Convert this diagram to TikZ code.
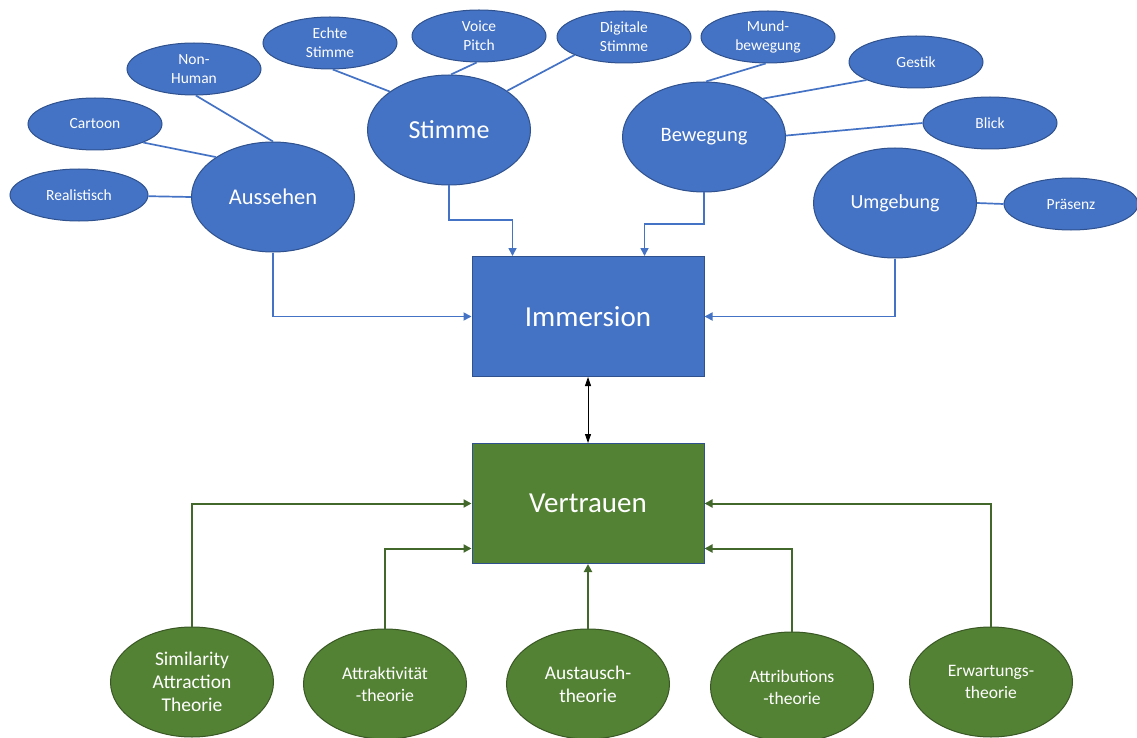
\documentclass[tikz,border=0pt]{standalone}
\usepackage{fontspec}
\setmainfont{Carlito}
\usetikzlibrary{shapes.geometric,arrows.meta}
\definecolor{bf}{HTML}{4472C4}
\definecolor{bd}{HTML}{2F528F}
\definecolor{gf}{HTML}{548235}
\definecolor{gd}{HTML}{385723}
\definecolor{gl}{HTML}{43682B}
\tikzset{
  sm/.style={ellipse, draw=bd, fill=bf, line width=1pt, minimum width=134pt, minimum height=52pt, inner sep=0pt, text=white, align=center, font=\fontsize{15.5}{19}\selectfont},
  big/.style={ellipse, draw=bd, fill=bf, line width=1pt, minimum width=163pt, minimum height=110pt, inner sep=0pt, text=white, align=center},
  gr/.style={ellipse, draw=gd, fill=gf, line width=1pt, minimum width=163pt, minimum height=110pt, inner sep=0pt, text=white, align=center},
  box/.style={rectangle, draw=bd, line width=1pt, minimum width=232pt, minimum height=120pt, inner sep=0pt, text=white, font=\fontsize{29}{34}\selectfont},
  bline/.style={draw=bf, line width=1.7pt},
  barr/.style={draw=bf, line width=1.7pt, -{Triangle[width=8pt,length=8pt]}},
  garr/.style={draw=gl, line width=2pt, -{Triangle[width=8pt,length=8pt]}},
  karr/.style={draw=black, line width=0.8pt, {Triangle[width=6pt,length=9pt]}-{Triangle[width=6pt,length=9pt]}},
}
\begin{document}
\begin{tikzpicture}[x=1pt,y=-1pt]
\useasboundingbox (0,0) rectangle (1137,738);
% top small ellipses
\node[sm, minimum width=138pt] (real) at (79,195) {Realistisch};
\node[sm] (cart) at (95,124) {Cartoon};
\node[sm] (nonh) at (194,69) {Non-\\Human};
\node[sm] (echt) at (330,43) {Echte\\Stimme};
\node[sm] (voic) at (479,36) {Voice\\Pitch};
\node[sm] (digi) at (624,37) {Digitale\\Stimme};
\node[sm] (mund) at (768,37) {Mund-\\bewegung};
\node[sm] (gest) at (916,62) {Gestik};
\node[sm] (blic) at (990,123) {Blick};
\node[sm] (prae) at (1071,204) {Präsenz};
% big ellipses
\node[big, font=\fontsize{22.5}{26}\selectfont] (auss) at (273,197) {Aussehen};
\node[big, font=\fontsize{26}{30}\selectfont] (stim) at (449,130) {Stimme};
\node[big, font=\fontsize{20.5}{24}\selectfont] (bew) at (704,137) {Bewegung};
\node[big, font=\fontsize{20}{24}\selectfont] (umg) at (895,203) {Umgebung};
% boxes
\node[box, fill=bf] (imm) at (588,316.5) {Immersion};
\node[box, fill=gf] (ver) at (588,503.5) {Vertrauen};
% green ellipses
\node[gr, font=\fontsize{19.5}{23}\selectfont] (sim) at (192,682) {Similarity\\Attraction\\Theorie};
\node[gr, font=\fontsize{17.8}{22}\selectfont] (attr) at (385,684) {Attraktivität\\-theorie};
\node[gr, font=\fontsize{19.4}{23}\selectfont] (aust) at (588,684) {Austausch-\\theorie};
\node[gr, font=\fontsize{17.6}{22}\selectfont] (atbu) at (792,687) {Attributions\\-theorie};
\node[gr, font=\fontsize{17.5}{22}\selectfont] (erw) at (991,682) {Erwartungs-\\theorie};
% spokes
\draw[bline] (real.-1) -- (auss.180);
\draw[bline] (cart.-21) -- (auss.145);
\draw[bline] (nonh.-86) -- (auss.90);
\draw[bline] (echt.-84) -- (stim.147);
\draw[bline] (voic.-95) -- (stim.88);
\draw[bline] (digi.-160) -- (stim.34);
\draw[bline] (mund.-95) -- (bew.88);
\draw[bline] (gest.-160) -- (bew.33);
\draw[bline] (blic.180) -- (bew.1);
\draw[bline] (prae.180) -- (umg.0);
% arrows into Immersion
\draw[barr] (auss.south) |- (imm.west);
\draw[barr] (umg.south) |- (imm.east);
\draw[barr] (stim.south) -- (449,220) -| ([xshift=41pt]imm.north west);
\draw[barr] (bew.south) -- (704,224) -| ([xshift=-60pt]imm.north east);
% Immersion <-> Vertrauen
\draw[karr] (imm.south) -- (ver.north);
% arrows into Vertrauen
\draw[garr] (sim.north) |- (ver.west);
\draw[garr] (attr.north) |- ([yshift=-45pt]ver.west);
\draw[garr] (aust.north) -- (ver.south);
\draw[garr] (atbu.north) |- ([yshift=-45pt]ver.east);
\draw[garr] (erw.north) |- (ver.east);
\end{tikzpicture}
\end{document}
